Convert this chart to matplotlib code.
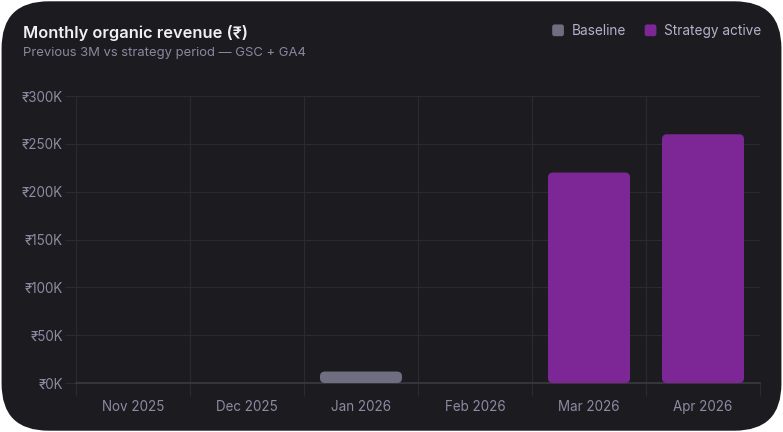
import matplotlib
matplotlib.use("Agg")
import matplotlib.pyplot as plt
from matplotlib.patches import FancyBboxPatch, Patch
from matplotlib.legend_handler import HandlerPatch
from matplotlib.ticker import FuncFormatter

months = ["Nov 2025", "Dec 2025", "Jan 2026", "Feb 2026", "Mar 2026", "Apr 2026"]
baseline = [0, 0, 12000, 0, 0, 0]
strategy = [0, 0, 0, 0, 220000, 260000]

card_bg = "#1c1b20"
grid_col = "#2b2a31"
base_col = "#6f6e80"
strat_col = "#7d2796"
tick_col = "#8e8aa3"

plt.rcParams['font.family'] = ['Inter', 'DejaVu Sans']


class RoundSwatch(HandlerPatch):
    def create_artists(self, legend, orig_handle, xdescent, ydescent, width, height, fontsize, trans):
        s = min(width, height)
        p = FancyBboxPatch((-xdescent + (width - s) / 2, -ydescent + (height - s) / 2), s, s,
                           boxstyle="round,pad=0,rounding_size=%f" % (s * 0.2),
                           facecolor=orig_handle.get_facecolor(), edgecolor="none", transform=trans)
        return [p]


fig = plt.figure(figsize=(7.83, 4.32), dpi=100)
fig.patch.set_facecolor("white")

# rounded card behind everything
card = FancyBboxPatch((0.002, 0.003), 0.996, 0.994, boxstyle="round,pad=0,rounding_size=0.06",
                      transform=fig.transFigure, facecolor=card_bg, edgecolor="none",
                      mutation_aspect=783 / 432, zorder=-10)
fig.patches.append(card)

ax = fig.add_axes([76 / 783, 49 / 432, 684 / 783, 287 / 432])
ax.set_facecolor("none")

x = list(range(len(months)))
w = 0.72
bars_b = ax.bar(x, baseline, width=w, color=base_col, alpha=0)
bars_s = ax.bar(x, strategy, width=w, color=strat_col, alpha=0)

ax.set_xlim(-0.5, len(months) - 0.5)
ax.set_ylim(0, 300000)

# redraw bars with rounded corners from the bar geometry
px_x = 684 / 6.0          # pixels per category
px_y = 287 / 300000.0     # pixels per rupee
r = 5 / px_x
for bars, col in ((bars_b, base_col), (bars_s, strat_col)):
    for b in bars:
        h = b.get_height()
        if h <= 0:
            continue
        p = FancyBboxPatch((b.get_x(), b.get_y()), b.get_width(), h,
                           boxstyle="round,pad=0,rounding_size=%f" % r,
                           mutation_aspect=px_x / px_y,
                           facecolor=col, edgecolor="none", zorder=3)
        ax.add_patch(p)

ax.set_yticks([0, 50000, 100000, 150000, 200000, 250000, 300000])
ax.yaxis.set_major_formatter(FuncFormatter(lambda v, pos: "₹%dK" % (v / 1000)))
ax.set_xticks([i + 0.5 for i in range(-1, len(months))], minor=False)
ax.set_xticklabels([])
ax.set_xticks(x, minor=True)
ax.set_xticklabels(months, minor=True)

ax.grid(True, which="major", color=grid_col, linewidth=0.9)
ax.tick_params(axis="x", which="major", length=9, color=grid_col, width=0.9)
ax.tick_params(axis="x", which="minor", length=0, pad=12, labelsize=9.7, labelcolor=tick_col)
ax.tick_params(axis="y", length=8, color=grid_col, width=0.9, pad=1.5, labelsize=9.7, labelcolor=tick_col)
for s in ["top", "right", "left"]:
    ax.spines[s].set_visible(False)
ax.spines["bottom"].set_color("#3c3b43")
ax.spines["bottom"].set_linewidth(1.2)
ax.set_axisbelow(True)

fig.text(23 / 783, 1 - 33 / 432, "Monthly organic revenue (₹)", color="#f1eff6",
         fontsize=11.8, fontweight="semibold", va="center", ha="left")
fig.text(23 / 783, 1 - 53 / 432, "Previous 3M vs strategy period — GSC + GA4", color="#8c879f",
         fontsize=9.4, va="center", ha="left")

handles = [Patch(facecolor=base_col, edgecolor="none"), Patch(facecolor=strat_col, edgecolor="none")]
leg = fig.legend(handles, ["Baseline", "Strategy active"], ncol=2, frameon=False,
                 loc="center right", bbox_to_anchor=(774 / 783, 1 - 31 / 432),
                 handlelength=0.95, handleheight=0.95, handletextpad=0.55, columnspacing=1.3,
                 fontsize=9.8, labelcolor="#b6b1c9", handler_map={Patch: RoundSwatch()})

fig.savefig("out.png", dpi=100, facecolor=fig.get_facecolor())
